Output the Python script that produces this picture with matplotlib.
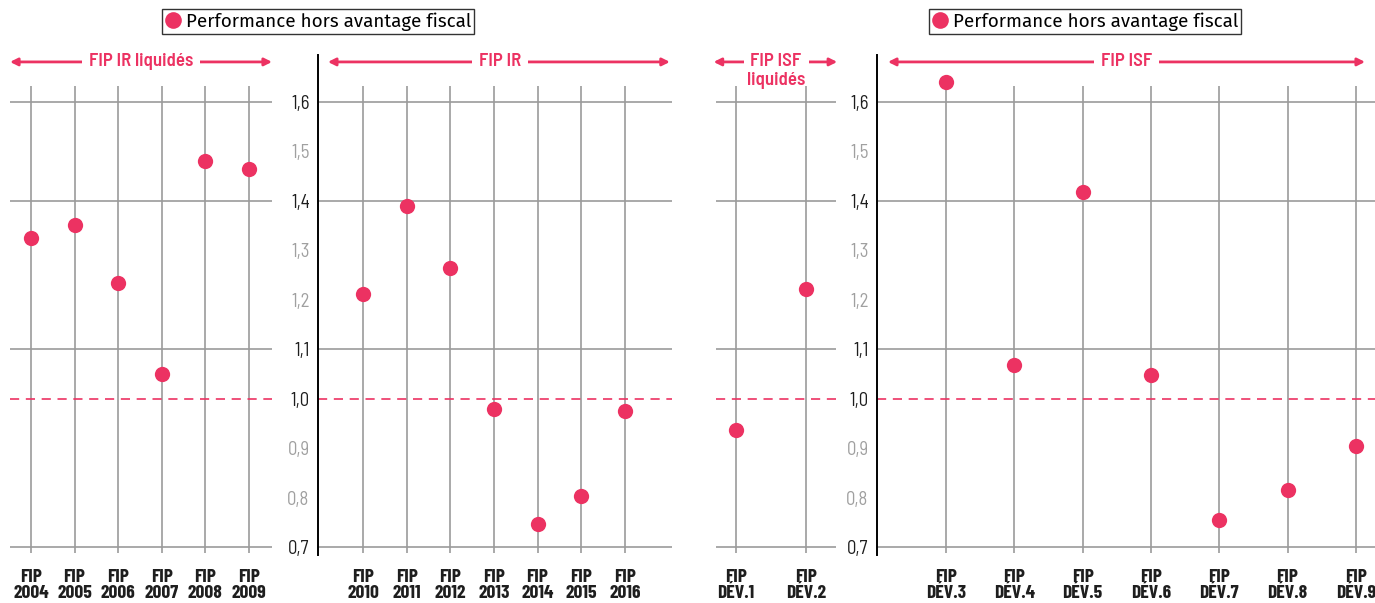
import matplotlib
matplotlib.use('Agg')
import matplotlib.pyplot as plt
import matplotlib.transforms as mtransforms
from matplotlib.lines import Line2D

RED = '#EC3262'
GRID = '#9B9B9B'

# ---- data ----
cats_ir_liq = ['FIP\n2004', 'FIP\n2005', 'FIP\n2006', 'FIP\n2007', 'FIP\n2008', 'FIP\n2009']
vals_ir_liq = [1.325, 1.351, 1.234, 1.050, 1.481, 1.465]

cats_ir = ['FIP\n2010', 'FIP\n2011', 'FIP\n2012', 'FIP\n2013', 'FIP\n2014', 'FIP\n2015', 'FIP\n2016']
vals_ir = [1.212, 1.390, 1.264, 0.979, 0.747, 0.803, 0.975]

cats_isf_liq = ['FIP\nDÉV.1', 'FIP\nDÉV.2']
vals_isf_liq = [0.937, 1.222]

cats_isf = ['FIP\nDÉV.3', 'FIP\nDÉV.4', 'FIP\nDÉV.5', 'FIP\nDÉV.6', 'FIP\nDÉV.7', 'FIP\nDÉV.8', 'FIP\nDÉV.9']
vals_isf = [1.641, 1.068, 1.418, 1.048, 0.755, 0.815, 0.904]

ytick_values = [0.7, 0.8, 0.9, 1.0, 1.1, 1.2, 1.3, 1.4, 1.5, 1.6]
ytick_labels = ['0,7', '0,8', '0,9', '1,0', '1,1', '1,2', '1,3', '1,4', '1,5', '1,6']
grid_values = [0.7, 1.1, 1.4, 1.6]
dark_labels = [0.7, 1.0, 1.1, 1.4, 1.6]
reference_value = 1.0
legend_label = 'Performance hors avantage fiscal'

W, H = 1375, 603
fig = plt.figure(figsize=(W / 100, H / 100), dpi=100)

YMIN, YMAX = 0.684, 1.695
VL_BOT, VL_TOP = 0.688, 1.632

COND = ['Barlow Condensed', 'DejaVu Sans']
SEMI = ['Barlow Semi Condensed', 'Barlow Condensed', 'DejaVu Sans']
LEG_FONT = ['Fira Sans', 'Noto Sans', 'DejaVu Sans']

def px_rect(x0, x1, y_top=55, y_bot=555):
    return [x0 / W, 1 - y_bot / H, (x1 - x0) / W, (y_bot - y_top) / H]

def panel(rect, cats, vals, xlim, show_y, header, header_span, header_x, sub=None):
    ax = fig.add_axes(rect)
    ax.set_xlim(*xlim)
    ax.set_ylim(YMIN, YMAX)
    x = list(range(len(cats)))
    for v in grid_values:
        ax.axhline(v, color=GRID, lw=1.2, zorder=1)
    ax.vlines(x, VL_BOT, VL_TOP, color=GRID, lw=1.2, zorder=1)
    ax.axhline(reference_value, color=RED, lw=1.2, ls=(0, (5.5, 4)), zorder=2)
    ax.plot(x, vals, 'o', color=RED, ms=11, mec='none', zorder=3)
    ax.set_xticks(x)
    ax.set_xticklabels(cats, fontsize=14, color='#1E1E1E', linespacing=0.93,
                       family=COND, fontweight='bold')
    ax.tick_params(axis='x', length=0, pad=10)
    for s in ['top', 'right', 'bottom']:
        ax.spines[s].set_visible(False)
    if show_y:
        ax.spines['left'].set_color('black')
        ax.spines['left'].set_linewidth(1.4)
        ax.set_yticks(ytick_values)
        ax.set_yticklabels(ytick_labels, fontsize=13.5, family=SEMI)
        for t, v in zip(ax.get_yticklabels(), ytick_values):
            t.set_color('#1E1E1E' if v in dark_labels else '#A0A0A0')
        ax.tick_params(axis='y', length=0, pad=6)
    else:
        ax.spines['left'].set_visible(False)
        ax.set_yticks([])
    hy = 1.681
    tr = mtransforms.blended_transform_factory(ax.transAxes, ax.transData)
    ax.annotate('', xy=(header_span[1], hy), xytext=(header_span[0], hy),
                xycoords=tr, textcoords=tr,
                arrowprops=dict(arrowstyle='<|-|>', color=RED, lw=2, shrinkA=0, shrinkB=0,
                                mutation_scale=11), annotation_clip=False)
    ax.text(header_x, hy, header, transform=tr,
            ha='center', va='center', color=RED, fontsize=13.5, zorder=5,
            family=SEMI, fontweight='semibold',
            bbox=dict(facecolor='white', edgecolor='none', pad=5))
    if sub:
        ax.text(header_x, 1.643, sub, transform=tr,
                ha='center', va='center', color=RED, fontsize=13.5, zorder=5,
                family=SEMI, fontweight='semibold')
    return ax

panel(px_rect(10, 272), cats_ir_liq, vals_ir_liq, (-0.48, 5.53), False,
      'FIP IR liquidés', (0, 1), 0.5)
panel(px_rect(318, 672), cats_ir, vals_ir, (-1.03, 7.08), True,
      'FIP IR', (0.028, 0.994), 0.514)
panel(px_rect(716, 836), cats_isf_liq, vals_isf_liq, (-0.29, 1.43), False,
      'FIP ISF', (-0.02, 1.01), 0.5, sub='liquidés')
panel(px_rect(877, 1375), cats_isf, vals_isf, (-1.01, 6.28), True,
      'FIP ISF', (0.022, 0.98), 0.502)

handle = Line2D([], [], marker='o', ls='none', color=RED, ms=12, mec='none')
for cx in [318, 1085]:
    leg = fig.legend([handle], [legend_label], loc='center',
                     bbox_to_anchor=(cx / W, 1 - 21.5 / H), frameon=True, fancybox=False,
                     edgecolor='black', borderpad=0.15, handletextpad=0.25, handlelength=0.9,
                     borderaxespad=0, prop=dict(family=LEG_FONT, size=13.5))
    leg.get_frame().set_linewidth(1)

fig.savefig('out.png', dpi=100)
